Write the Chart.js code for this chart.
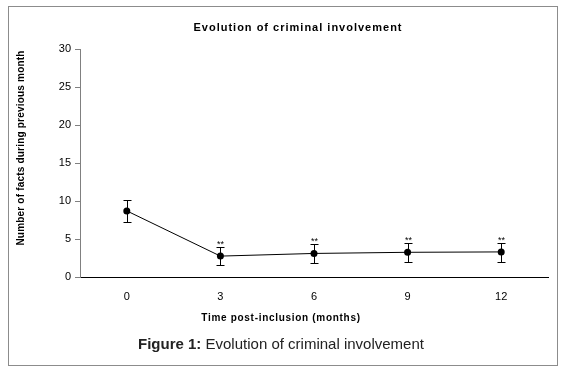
<!DOCTYPE html>
<html>
<head>
<meta charset="utf-8">
<script src="https://cdn.jsdelivr.net/npm/chart.js@4.4.1/dist/chart.umd.min.js"></script>
<style>
  body { margin: 0; background: #fff; }
  #wrap { position: relative; width: 569px; height: 371px; }
  #frame { position: absolute; left: 8px; top: 6px; width: 548px; height: 358px; border: 1px solid #8c8c8c; }
  #chart { position: absolute; left: 0; top: 0; }
  #caption { position: absolute; left: 0; width: 562px; top: 335px; text-align: center;
    font-family: "Liberation Sans", Arial, sans-serif; font-size: 15px; color: #222; }
</style>
</head>
<body>
<div id="wrap">
  <div id="frame"></div>
  <canvas id="chart" width="569" height="371"></canvas>
  <div id="caption"><b>Figure 1:</b> Evolution of criminal involvement</div>
</div>
<script>
// datos
const months = ["0", "3", "6", "9", "12"];
const meanFacts = [8.7, 2.75, 3.1, 3.25, 3.3];
const errUpper = [10.1, 4.0, 4.3, 4.45, 4.45];
const errLower = [7.2, 1.6, 1.8, 2.0, 2.0];
const signif = ["", "**", "**", "**", "**"];
const yTicks = [0, 5, 10, 15, 20, 25, 30];

const chartTitle = "Evolution of criminal involvement";
const xTitle = "Time post-inclusion (months)";
const yTitle = "Number of facts during previous month";

const FONT = '"Liberation Sans", Arial, sans-serif';

// barras de error + asteriscos
const errorBars = {
  id: "errorBars",
  beforeDatasetsDraw(chart) {
    const ctx = chart.ctx;
    const xs = chart.scales.x, ys = chart.scales.y;
    ctx.save();
    ctx.strokeStyle = "#000";
    ctx.lineWidth = 1;
    months.forEach((m, i) => {
      const x = Math.round(xs.getPixelForValue(i)) + 0.5;
      const yt = Math.round(ys.getPixelForValue(errUpper[i])) + 0.5;
      const yb = Math.round(ys.getPixelForValue(errLower[i])) + 0.5;
      ctx.beginPath();
      ctx.moveTo(x, yt); ctx.lineTo(x, yb);
      ctx.moveTo(x - 4, yt); ctx.lineTo(x + 4, yt);
      ctx.moveTo(x - 4, yb); ctx.lineTo(x + 4, yb);
      ctx.stroke();
      if (signif[i]) {
        ctx.fillStyle = "#000";
        ctx.font = "9px " + FONT;
        ctx.textAlign = "center";
        ctx.textBaseline = "bottom";
        ctx.fillText(signif[i], x, yt + 2);
      }
    });
    ctx.restore();
  },
  afterDraw(chart) {
    const ctx = chart.ctx;
    ctx.save();
    ctx.fillStyle = "#000";
    ctx.textAlign = "center";
    ctx.textBaseline = "middle";
    ctx.font = "bold 11px " + FONT;
    ctx.letterSpacing = "1px";
    ctx.fillText(chartTitle, 298, 28);
    ctx.font = "bold 10px " + FONT;
    ctx.letterSpacing = "0.7px";
    ctx.fillText(xTitle, 281, 318);
    ctx.letterSpacing = "0.2px";
    ctx.translate(21, 148);
    ctx.rotate(-Math.PI / 2);
    ctx.fillText(yTitle, 0, 0);
    ctx.restore();
  }
};

new Chart(document.getElementById("chart").getContext("2d"), {
  type: "line",
  data: {
    labels: months,
    datasets: [{
      data: meanFacts,
      borderColor: "#000",
      borderWidth: 1,
      backgroundColor: "#000",
      pointRadius: 3.5,
      pointBackgroundColor: "#000",
      pointBorderWidth: 0,
      tension: 0
    }]
  },
  options: {
    responsive: false,
    animation: false,
    layout: { padding: { left: 40, right: 21, top: 49, bottom: 0 } },
    scales: {
      x: {
        offset: true,
        grid: { display: false, drawTicks: false },
        border: { color: "#000", width: 1 },
        ticks: { color: "#000", font: { family: FONT, size: 11 }, padding: 13 },
        afterFit(s) { s.height = 94; }
      },
      y: {
        min: 0, max: 30,
        afterBuildTicks(s) { s.ticks = yTicks.map(v => ({ value: v })); },
        grid: { display: true, drawOnChartArea: false, drawTicks: true, tickLength: 5, color: "#808080", tickColor: "#808080" },
        border: { color: "#808080", width: 1 },
        ticks: { color: "#000", font: { family: FONT, size: 11 }, padding: 4 },
        afterFit(s) { s.width = 40; }
      }
    },
    plugins: { legend: { display: false }, tooltip: { enabled: false } }
  },
  plugins: [errorBars]
});
</script>
</body>
</html>
